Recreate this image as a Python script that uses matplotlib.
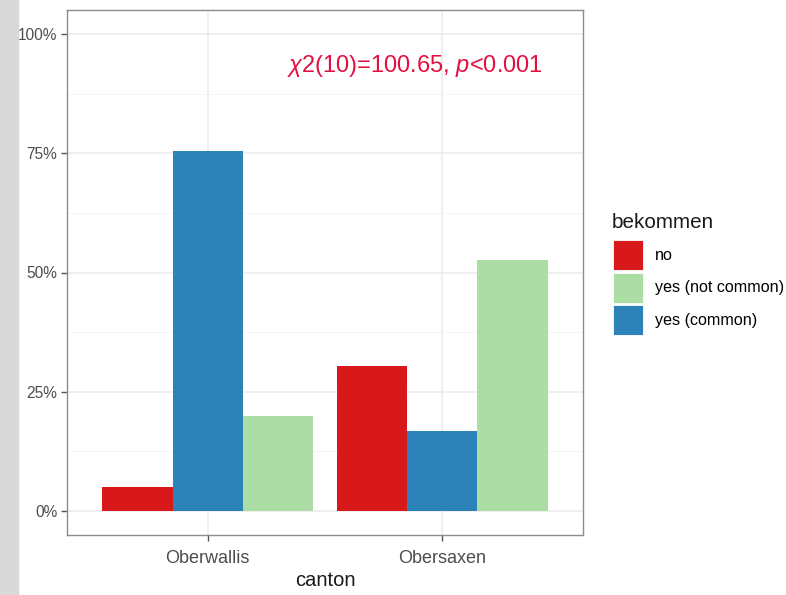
import numpy as np
import matplotlib
matplotlib.use("Agg")
import matplotlib.pyplot as plt
from matplotlib.patches import Patch, Rectangle
from matplotlib.ticker import FixedLocator

plt.rcParams['font.family'] = ['Liberation Sans', 'DejaVu Sans']
plt.rcParams['mathtext.fontset'] = 'custom'
plt.rcParams['mathtext.rm'] = 'Liberation Sans'
plt.rcParams['mathtext.it'] = 'Liberation Sans:italic'

# data
cantons = ["Oberwallis", "Obersaxen"]
bar_order = ["no", "yes (common)", "yes (not common)"]
legend_order = ["no", "yes (not common)", "yes (common)"]
shares = {
    "no": [0.05, 0.305],
    "yes (common)": [0.755, 0.167],
    "yes (not common)": [0.199, 0.527],
}
colors = {"no": "#d7191c", "yes (not common)": "#abdda4", "yes (common)": "#2b83ba"}
y_ticks = [0, 0.25, 0.5, 0.75, 1.0]
y_labels = ["0%", "25%", "50%", "75%", "100%"]
stat_text = r"$\mathit{\chi}$2(10)=100.65, $\mathit{p}$<0.001"

fig = plt.figure(figsize=(7.86, 5.95), dpi=100)
fig.patches.append(Rectangle((0, 0), 18 / 786, 1, transform=fig.transFigure,
                             color="#d9d9d9", zorder=0))
ax = fig.add_axes([67 / 786, 60 / 595, 516 / 786, 525 / 595])

x = np.arange(1, len(cantons) + 1)
w = 0.3
for i, key in enumerate(bar_order):
    ax.bar(x + (i - 1) * w, shares[key], width=w, color=colors[key], zorder=3)

ax.set_xlim(0.4, 2.6)
ax.set_ylim(-0.05, 1.05)
ax.set_xticks(x)
ax.set_xticklabels(cantons)
ax.set_yticks(y_ticks)
ax.set_yticklabels(y_labels)
ax.yaxis.set_minor_locator(FixedLocator([0.125, 0.375, 0.625, 0.875]))
ax.grid(True, which="major", color="#ebebeb", linewidth=1.1, zorder=0)
ax.grid(True, which="minor", axis="y", color="#f4f4f4", linewidth=0.6, zorder=0)
ax.set_axisbelow(True)
ax.tick_params(which="minor", length=0)
ax.tick_params(which="major", length=4, color="#555555", width=1,
               labelcolor="#4d4d4d", pad=3)
ax.tick_params(axis="x", labelsize=13, pad=7)
ax.tick_params(axis="y", labelsize=11.2)
for s in ax.spines.values():
    s.set_color("#8c8c8c")
    s.set_linewidth(1)
ax.set_xlabel("canton", fontsize=14.5, color="#1a1a1a", labelpad=3)

ax.text(1.34, 0.933, stat_text, color="#e3103f", fontsize=17,
        va="center", ha="left")

# legend: title as its own text, keys 30px squares like ggplot
fig.text(612 / 786, 1 - 228 / 595, "bekommen", fontsize=14.9,
         color="#1a1a1a", va="baseline", ha="left")
handles = [Patch(facecolor=colors[k], edgecolor="white", linewidth=0.6)
           for k in legend_order]
fig.legend(handles, legend_order, loc="upper left",
           bbox_to_anchor=(613 / 786, 1 - 240 / 595), frameon=False,
           fontsize=11.6, handlelength=1.86, handleheight=2.49,
           labelspacing=0.155, handletextpad=0.75,
           borderaxespad=0, borderpad=0)

fig.savefig("out.png", dpi=100)
